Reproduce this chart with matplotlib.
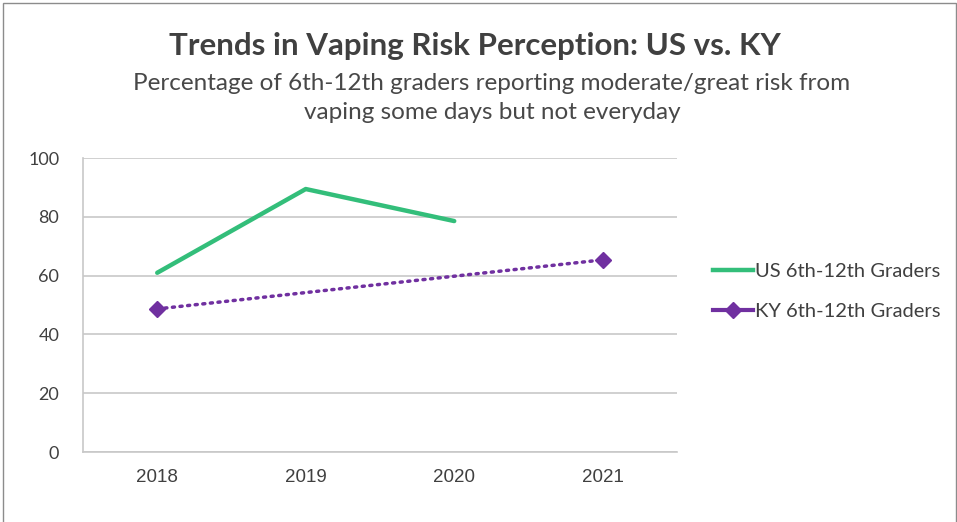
import matplotlib
matplotlib.use("Agg")
import matplotlib.pyplot as plt
from matplotlib.patches import Rectangle
from matplotlib.lines import Line2D

years = ["2018", "2019", "2020", "2021"]
us_x = [0, 1, 2]
us_vals = [61.0, 89.5, 78.6]
ky_x = [0, 3]
ky_vals = [48.7, 65.4]
yticks = [0, 20, 40, 60, 80, 100]

green = "#33BE7A"
purple = "#7030A0"
txt = "#404040"

fig = plt.figure(figsize=(9.57, 5.22), dpi=100)
ax = fig.add_axes([0.0867, 0.134, 0.6207, 0.563])

ax.plot(us_x, us_vals, color=green, lw=3.2, solid_capstyle="round")
ax.plot(ky_x, ky_vals, color=purple, lw=2.5, linestyle=(0, (0.6, 1.6)),
        dash_capstyle="round", marker="D", markersize=8)

ax.set_xlim(-0.5, 3.5)
ax.set_ylim(0, 100)
ax.set_xticks(range(len(years)))
ax.set_xticklabels(years, fontsize=13.5, color=txt, family="Liberation Sans")
ax.set_yticks(yticks)
ax.set_yticklabels([str(v) for v in yticks], fontsize=13, color=txt, family="Lato")
ax.tick_params(axis="x", length=0, pad=12)
ax.tick_params(axis="y", length=0, pad=17)
ax.grid(axis="y", color="#C8C8C8", lw=1.2)
ax.set_axisbelow(True)
for s in ["top", "right"]:
    ax.spines[s].set_visible(False)
ax.spines["left"].set_color("#C8C8C8")
ax.spines["bottom"].set_color("#C8C8C8")
ax.spines["left"].set_linewidth(1.2)
ax.spines["bottom"].set_linewidth(1.2)

handles = [Line2D([], [], color=green, lw=3.2),
           Line2D([], [], color=purple, lw=3, marker="D", markersize=8)]
labels = ["US 6th-12th Graders", "KY 6th-12th Graders"]
ax.legend(handles, labels, loc="center left", bbox_to_anchor=(1.03, 0.546),
          frameon=False, prop={"family": "Lato", "size": 14.5}, handlelength=2.0,
          handletextpad=0.1, labelspacing=1.15, labelcolor=txt)

fig.text(0.496, 0.912, "Trends in Vaping Risk Perception: US vs. KY",
         ha="center", va="center", fontsize=22.5, fontweight="bold",
         color=txt, family="Lato")
fig.text(0.514, 0.812, "Percentage of 6th-12th graders reporting moderate/great risk from\nvaping some days but not everyday",
         ha="center", va="center", fontsize=17.5, color="#484848", family="Lato",
         linespacing=1.45)

fig.patches.append(Rectangle((0.003, -0.01), 0.996, 1.004, transform=fig.transFigure,
                             fill=False, edgecolor="#8C8C8C", lw=1))

fig.savefig("out.png", dpi=100)
